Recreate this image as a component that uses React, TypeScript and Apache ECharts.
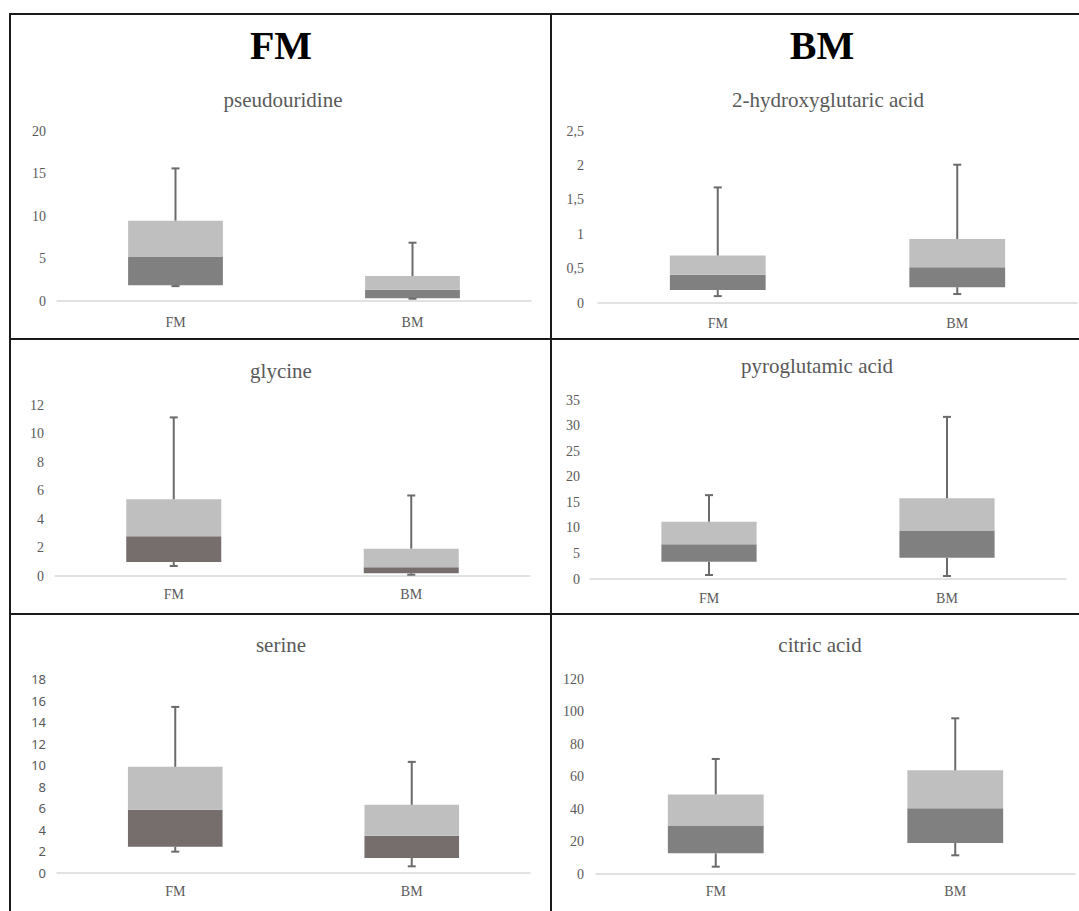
import React, { useEffect, useRef } from "react";
import * as echarts from "echarts";

// Categories
const categories = ["FM", "BM"];

// Five-number summaries per group: [min, q1, median, q3, max]
const pseudouridineFM = [1.75, 1.84, 5.25, 9.45, 15.6];
const pseudouridineBM = [0.27, 0.31, 1.33, 2.94, 6.86];
const hydroxyglutaricFM = [0.1, 0.19, 0.41, 0.69, 1.68];
const hydroxyglutaricBM = [0.13, 0.23, 0.52, 0.93, 2.01];
const glycineFM = [0.7, 0.98, 2.79, 5.39, 11.13];
const glycineBM = [0.09, 0.19, 0.61, 1.92, 5.65];
const pyroglutamicFM = [0.78, 3.39, 6.78, 11.2, 16.4];
const pyroglutamicBM = [0.59, 4.17, 9.5, 15.8, 31.7];
const serineFM = [1.98, 2.44, 5.87, 9.85, 15.41];
const serineBM = [0.62, 1.39, 3.46, 6.33, 10.31];
const citricFM = [4.5, 12.7, 29.9, 49.0, 70.8];
const citricBM = [11.5, 19.1, 40.4, 63.8, 95.8];

// Panel titles and axis tick settings
const panelTitles = [
  "pseudouridine",
  "2-hydroxyglutaric acid",
  "glycine",
  "pyroglutamic acid",
  "serine",
  "citric acid",
];
const yMaxes = [20, 2.5, 12, 35, 18, 120];
const yIntervals = [5, 0.5, 2, 5, 2, 20];
const headers = ["FM", "BM"];

const panelData = [
  [pseudouridineFM, pseudouridineBM],
  [hydroxyglutaricFM, hydroxyglutaricBM],
  [glycineFM, glycineBM],
  [pyroglutamicFM, pyroglutamicBM],
  [serineFM, serineBM],
  [citricFM, citricBM],
];

// Layout (pixels)
const grids = [
  { left: 57, width: 474, top: 131, height: 170 },
  { left: 598, width: 479, top: 131, height: 172 },
  { left: 55, width: 475, top: 405, height: 171 },
  { left: 590, width: 476, top: 400, height: 179 },
  { left: 57, width: 473, top: 679, height: 194 },
  { left: 596, width: 479, top: 679, height: 195 },
];
const titlePos = [
  { x: 283, y: 100 },
  { x: 828, y: 100 },
  { x: 281, y: 371 },
  { x: 817, y: 366 },
  { x: 281, y: 645 },
  { x: 820, y: 645 },
];
const labelMargins = [11, 14, 11, 10, 11, 12];
const catMargins = [14, 13, 11, 12, 11, 10];
const darkColors = ["#808080", "#808080", "#766D6D", "#808080", "#766D6D", "#808080"];

export default function App() {
  const ref = useRef<HTMLDivElement>(null);

  useEffect(() => {
    if (!ref.current) return;
    const chart = echarts.init(ref.current, undefined, { renderer: "svg" });

    const serif = "'Liberation Serif', 'Times New Roman', serif";
    const sans = "'Noto Sans', 'Open Sans', sans-serif";

    const grid: any[] = [];
    const xAxis: any[] = [];
    const yAxis: any[] = [];
    const series: any[] = [];
    const graphic: any[] = [];

    panelData.forEach((groups, i) => {
      const g = grids[i];
      grid.push({ left: g.left, top: g.top, width: g.width, height: g.height, containLabel: false });
      const labelFont = i === 4 ? sans : serif;
      xAxis.push({
        type: "category",
        gridIndex: i,
        data: categories,
        axisLine: { show: true, lineStyle: { color: "#D9D9D9", width: 1.5 } },
        axisTick: { show: false },
        axisLabel: { color: "#595959", fontFamily: serif, fontSize: 14, margin: catMargins[i] },
      });
      yAxis.push({
        type: "value",
        gridIndex: i,
        min: 0,
        max: yMaxes[i],
        interval: yIntervals[i],
        splitLine: { show: false },
        axisLine: { show: false },
        axisTick: { show: false },
        axisLabel: {
          color: "#595959",
          fontFamily: labelFont,
          fontSize: i === 4 ? 13 : 14,
          margin: labelMargins[i],
          formatter: (v: number) => String(v).replace(".", ","),
        },
      });
      const base = groups.map((s) => s[1]);
      const lower = groups.map((s) => s[2] - s[1]);
      const upper = groups.map((s) => s[3] - s[2]);
      series.push({
        type: "bar",
        xAxisIndex: i,
        yAxisIndex: i,
        stack: "s" + i,
        barWidth: "40%",
        data: base,
        itemStyle: { color: "transparent" },
        silent: true,
      });
      series.push({
        type: "bar",
        xAxisIndex: i,
        yAxisIndex: i,
        stack: "s" + i,
        barWidth: "40%",
        data: lower,
        itemStyle: { color: darkColors[i] },
      });
      series.push({
        type: "bar",
        xAxisIndex: i,
        yAxisIndex: i,
        stack: "s" + i,
        barWidth: "40%",
        data: upper,
        itemStyle: { color: "#BFBFBF" },
      });
      series.push({
        type: "custom",
        xAxisIndex: i,
        yAxisIndex: i,
        z: 5,
        encode: { x: 0, y: [1, 2, 3, 4] },
        data: groups.map((s, k) => [k, s[0], s[1], s[3], s[4]]),
        renderItem: (params: any, api: any) => {
          const k = api.value(0);
          const pMin = api.coord([k, api.value(1)]);
          const pQ1 = api.coord([k, api.value(2)]);
          const pQ3 = api.coord([k, api.value(3)]);
          const pMax = api.coord([k, api.value(4)]);
          const cap = 4;
          const style = { stroke: "#6B6B6B", lineWidth: 2 };
          return {
            type: "group",
            children: [
              { type: "line", shape: { x1: pQ3[0], y1: pQ3[1], x2: pMax[0], y2: pMax[1] }, style },
              { type: "line", shape: { x1: pMax[0] - cap, y1: pMax[1], x2: pMax[0] + cap, y2: pMax[1] }, style },
              { type: "line", shape: { x1: pQ1[0], y1: pQ1[1], x2: pMin[0], y2: pMin[1] }, style },
              { type: "line", shape: { x1: pMin[0] - cap, y1: pMin[1], x2: pMin[0] + cap, y2: pMin[1] }, style },
            ],
          };
        },
      });
      graphic.push({
        type: "text",
        x: titlePos[i].x,
        y: titlePos[i].y,
        style: {
          text: panelTitles[i],
          fill: "#595959",
          font: `21px ${serif}`,
          textAlign: "center",
          textVerticalAlign: "middle",
        },
      });
    });

    graphic.push({
      type: "text",
      x: 281,
      y: 45,
      style: { text: headers[0], fill: "#000", font: `bold 40px ${serif}`, textAlign: "center", textVerticalAlign: "middle" },
    });
    graphic.push({
      type: "text",
      x: 822,
      y: 45,
      style: { text: headers[1], fill: "#000", font: `bold 40px ${serif}`, textAlign: "center", textVerticalAlign: "middle" },
    });

    const border = { stroke: "#1A1A1A", lineWidth: 2 };
    graphic.push({ type: "line", shape: { x1: 9, y1: 14, x2: 1079, y2: 14 }, style: border });
    graphic.push({ type: "line", shape: { x1: 10, y1: 13, x2: 10, y2: 911 }, style: border });
    graphic.push({ type: "line", shape: { x1: 551, y1: 13, x2: 551, y2: 911 }, style: border });
    graphic.push({ type: "line", shape: { x1: 9, y1: 339, x2: 1079, y2: 339 }, style: border });
    graphic.push({ type: "line", shape: { x1: 9, y1: 614, x2: 1079, y2: 614 }, style: border });

    chart.setOption({
      animation: false,
      backgroundColor: "#FFFFFF",
      grid,
      xAxis,
      yAxis,
      series,
      graphic,
    });

    return () => chart.dispose();
  }, []);

  return (
    <div
      ref={ref}
      style={{ position: "fixed", left: 0, top: 0, width: 1079, height: 911, background: "#fff" }}
    />
  );
}
